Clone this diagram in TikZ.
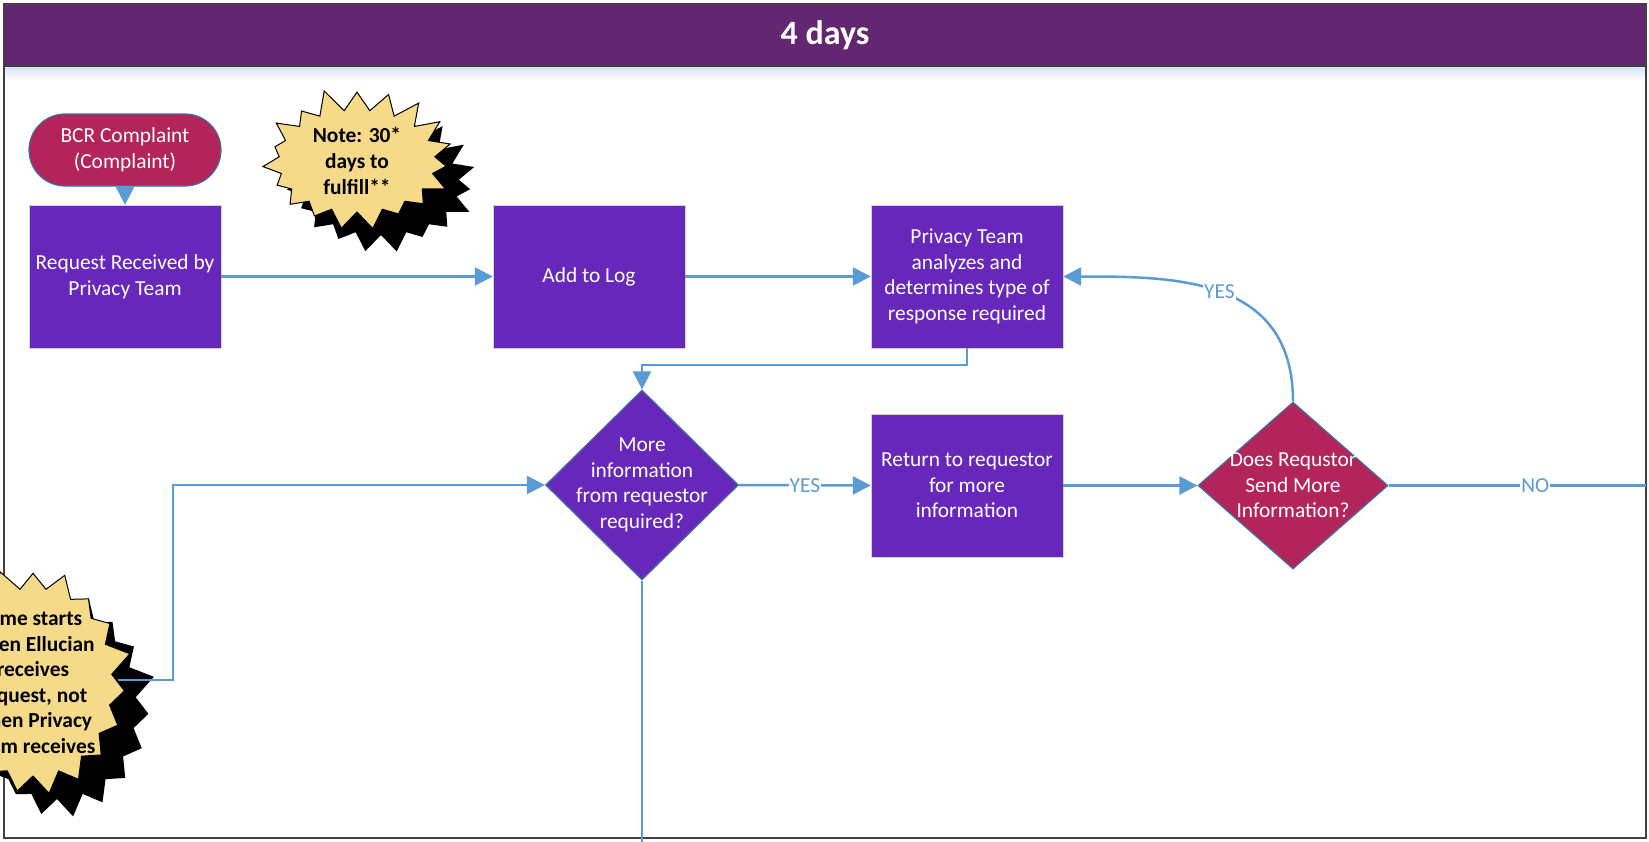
\documentclass[tikz,border=0pt]{standalone}
\usepackage{fontspec}
\setmainfont{Carlito}
\usetikzlibrary{
  arrows.meta,
  shapes.geometric,
  shapes.symbols,
  shadows
}
\definecolor{headpurple}{RGB}{99,38,112}
\definecolor{boxpurple}{RGB}{102,39,186}
\definecolor{crimson}{RGB}{178,36,90}
\definecolor{edgeblue}{RGB}{65,113,156}
\definecolor{linkblue}{RGB}{91,155,213}
\definecolor{noteyellow}{RGB}{245,218,138}
\definecolor{framegray}{RGB}{64,64,64}
\definecolor{paleblue}{RGB}{214,228,244}

\begin{document}
\begin{tikzpicture}[
  x=1pt, y=-1pt,
  stepbox/.style={
    draw=gray!35,
    fill=boxpurple,
    text=white,
    font=\fontsize{21.4}{25.6}\selectfont,
    minimum width=192pt,
    minimum height=143pt,
    align=center
  },
  termbox/.style={
    draw=edgeblue,
    line width=1.2pt,
    fill=crimson,
    text=white,
    rounded corners=36pt,
    font=\fontsize{21.4}{25.6}\selectfont,
    minimum width=192pt,
    minimum height=72pt,
    align=center
  },
  decbox/.style={
    diamond,
    draw=edgeblue,
    line width=1.2pt,
    inner sep=0pt
  },
  dectext/.style={
    text=white,
    font=\fontsize{21.4}{25.6}\selectfont,
    align=center
  },
  notestar/.style={
    starburst,
    draw=black,
    line width=1pt,
    fill=noteyellow,
    font=\fontsize{21.4}{25.6}\selectfont\bfseries,
    align=center,
    starburst points=19,
    starburst point height=24pt,
    drop shadow={fill=black, opacity=1, shadow xshift=24pt, shadow yshift=-23pt}
  },
  link/.style={
    line width=2.5pt,
    draw=linkblue
  },
  linkarrow/.style={
    link,
    -{Triangle[length=18pt, width=18pt]}
  },
  linklabel/.style={
    font=\fontsize{21.4}{25.6}\selectfont,
    text=linkblue,
    fill=white,
    inner sep=1pt
  }
]
  \clip (0,0) rectangle (1649,841);

  % Lane header and frame
  \fill[headpurple] (4,4) rectangle (1646,66);
  \shade[top color=paleblue, bottom color=white] (5,67) rectangle (1645,80);
  \draw[framegray, line width=2pt] (4,4) rectangle (1646,838);
  \draw[framegray, line width=2pt] (4,66) -- (1646,66);
  \node[font=\fontsize{34}{40}\selectfont\bfseries, text=white] (title) at (825,35) {4 days};

  % Process steps
  \node[termbox] (complaint) at (125,150) {BCR Complaint\\(Complaint)};
  \node[stepbox] (received) at (125,276.5) {Request Received by\\Privacy Team};
  \node[stepbox] (addlog) at (589,276.5) {Add to Log};
  \node[stepbox] (analyze) at (967,276.5) {Privacy Team\\analyzes and\\determines type of\\response required};
  \node[stepbox] (askback) at (967,485.5) {Return to requestor\\for more\\information};

  % Decisions
  \node[decbox, fill=boxpurple, minimum width=193pt, minimum height=190pt,
    label={[dectext]center:More\\information\\from requestor\\required?}] (moreinfo) at (642,485) {};
  \node[decbox, fill=crimson, minimum width=190pt, minimum height=167pt,
    label={[dectext]center:Does Requstor\\Send More\\Information?}] (sendmore) at (1293,485.5) {};

  % Notes
  \node[notestar, minimum width=204pt, minimum height=150pt, inner xsep=0pt, inner ysep=-10pt,
    random starburst=11] (daysnote) at (357,161) {Note: 30*\\days to\\fulfill**};
  \node[notestar, minimum width=206pt, minimum height=236pt, inner xsep=-40pt, inner ysep=-45pt,
    random starburst=5] (startnote) at (33,682) {Time starts\\when Ellucian\\receives\\request, not\\when Privacy\\Team receives};

  % Loose ends
  \coordinate (startout) at (118,680);
  \coordinate (noend) at (1646,485.5);
  \coordinate (downend) at (642,845);

  % Connectors
  \draw[linkarrow] (complaint.south) -- (received.north);
  \draw[linkarrow] (received.east) -- (addlog.west);
  \draw[linkarrow] (addlog.east) -- (analyze.west);
  \draw[linkarrow] (analyze.south) -- ++(0,17) -| (moreinfo.north);
  \draw[linkarrow] (moreinfo.east) -- (askback.west) node[linklabel, midway] {YES};
  \draw[linkarrow] (askback.east) -- (sendmore.west);
  \draw[linkarrow] (sendmore.north) .. controls +(0,-125) and +(110,0) .. (analyze.east)
    node[linklabel, pos=0.5] {YES};
  \draw[link] (sendmore.east) -- (noend) node[linklabel, pos=0.57] {NO};
  \draw[link] (moreinfo.south) -- (downend);
  \draw[linkarrow] (startout) -- ++(55,0) |- (moreinfo.west);
\end{tikzpicture}
\end{document}
